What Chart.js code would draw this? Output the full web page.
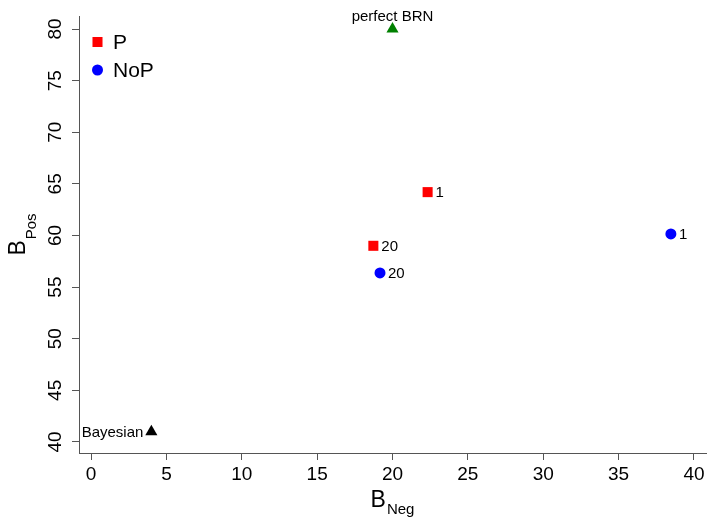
<!DOCTYPE html>
<html>
<head>
<meta charset="utf-8">
<title>B_Pos vs B_Neg</title>
<script src="https://cdn.jsdelivr.net/npm/chart.js@4.4.1/dist/chart.umd.min.js"></script>
<style>
  html, body { margin: 0; padding: 0; background: #fff; }
  #wrap { width: 708px; height: 520px; }
</style>
</head>
<body>
<div id="wrap"><canvas id="brnChart" width="708" height="520"></canvas></div>
<script>
// P runs (red squares)
const pNeg = [22.33, 18.73];
const pPos = [64.2, 59.0];
const pTags = ["1", "20"];

// NoP runs (blue circles)
const nopNeg = [38.47, 19.17];
const nopPos = [60.15, 56.37];
const nopTags = ["1", "20"];

// reference points (triangles)
const refNames = ["perfect BRN", "Bayesian"];
const refNeg = [20, 4];
const refPos = [80, 41];

const xTicks = [0, 5, 10, 15, 20, 25, 30, 35, 40];
const yTicks = [40, 45, 50, 55, 60, 65, 70, 75, 80];

const FONT = "'Liberation Sans', Arial, Helvetica, sans-serif";
const AXIS_GREY = "#555";

const toPoints = (xs, ys) => xs.map((x, i) => ({ x: x, y: ys[i] }));

// writes "B" with a smaller lowered suffix, centred on cx
function subTitle(ctx, main, sub, cx, baseY, drop) {
  ctx.font = "23px " + FONT;
  const wMain = ctx.measureText(main).width;
  ctx.font = "15px " + FONT;
  const wSub = ctx.measureText(sub).width;
  const x0 = cx - (wMain + wSub + 1) / 2;
  ctx.textAlign = "left";
  ctx.textBaseline = "alphabetic";
  ctx.font = "23px " + FONT;
  ctx.fillText(main, x0, baseY);
  ctx.font = "15px " + FONT;
  ctx.fillText(sub, x0 + wMain + 1, baseY + drop);
}

function marker(ctx, style, color, x, y, r) {
  ctx.fillStyle = color;
  ctx.beginPath();
  if (style === "rect") {
    const s = Math.SQRT1_2 * r;
    ctx.rect(x - s, y - s, 2 * s, 2 * s);
  } else {
    ctx.arc(x, y, r, 0, Math.PI * 2);
  }
  ctx.fill();
}

const annotate = {
  id: "annotate",
  afterDatasetsDraw(chart) {
    const { ctx, chartArea: area } = chart;
    ctx.save();

    // point tags
    chart.data.datasets.forEach((ds, i) => {
      const meta = chart.getDatasetMeta(i);
      meta.data.forEach((pt, j) => {
        const text = ds.tags[j];
        ctx.fillStyle = "#000";
        ctx.font = "15px " + FONT;
        if (ds.tagPlace === "above") {
          ctx.textAlign = "center";
          ctx.textBaseline = "alphabetic";
          ctx.fillText(text, pt.x, pt.y - 8);
        } else if (ds.tagPlace === "left") {
          ctx.textAlign = "right";
          ctx.textBaseline = "middle";
          ctx.fillText(text, pt.x - 8, pt.y + 1);
        } else {
          ctx.textAlign = "left";
          ctx.textBaseline = "middle";
          ctx.fillText(text, pt.x + 8, pt.y + 1);
        }
      });
    });

    // legend, top left inside the plot
    let ly = area.top + 26;
    chart.data.datasets.filter(ds => ds.inLegend).forEach(ds => {
      marker(ctx, ds.pointStyle, ds.backgroundColor, area.left + 18.5, ly, ds.pointRadius);
      ctx.fillStyle = "#000";
      ctx.font = "21px " + FONT;
      ctx.textAlign = "left";
      ctx.textBaseline = "middle";
      ctx.fillText(ds.label, area.left + 34, ly + 1);
      ly += 28;
    });

    // axis titles
    ctx.fillStyle = "#000";
    subTitle(ctx, "B", "Neg", (area.left + area.right) / 2, 507, 7);
    ctx.translate(25, (area.top + area.bottom) / 2);
    ctx.rotate(-Math.PI / 2);
    subTitle(ctx, "B", "Pos", 0, 0, 11);

    ctx.restore();
  }
};

const tickFont = { family: FONT, size: 19 };

new Chart(document.getElementById("brnChart"), {
  type: "scatter",
  data: {
    datasets: [
      {
        label: "P",
        data: toPoints(pNeg, pPos),
        tags: pTags,
        inLegend: true,
        pointStyle: "rect",
        pointRadius: 7.1,
        backgroundColor: "#ff0000",
        borderWidth: 0,
      },
      {
        label: "NoP",
        data: toPoints(nopNeg, nopPos),
        tags: nopTags,
        inLegend: true,
        pointStyle: "circle",
        pointRadius: 5.5,
        backgroundColor: "#0000ff",
        borderWidth: 0,
      },
      {
        label: refNames[0],
        data: [{ x: refNeg[0], y: refPos[0] }],
        tags: [refNames[0]],
        tagPlace: "above",
        pointStyle: "triangle",
        pointRadius: 7,
        backgroundColor: "#008000",
        borderWidth: 0,
      },
      {
        label: refNames[1],
        data: [{ x: refNeg[1], y: refPos[1] }],
        tags: [refNames[1]],
        tagPlace: "left",
        pointStyle: "triangle",
        pointRadius: 7,
        backgroundColor: "#000000",
        borderWidth: 0,
      },
    ],
  },
  options: {
    responsive: false,
    animation: false,
    devicePixelRatio: 1,
    layout: { autoPadding: false, padding: { top: 16, right: 2, bottom: 0, left: 0 } },
    plugins: {
      legend: { display: false },
      tooltip: { enabled: false },
    },
    scales: {
      x: {
        type: "linear",
        min: -0.8,
        max: 40.8,
        afterBuildTicks: (s) => { s.ticks = xTicks.map(v => ({ value: v })); },
        afterFit: (s) => { s.height = 67; s.paddingLeft = 0; s.paddingRight = 0; },
        border: { display: true, color: AXIS_GREY, width: 1 },
        grid: { display: true, drawOnChartArea: false, drawTicks: true, tickLength: 7, color: AXIS_GREY, tickColor: AXIS_GREY },
        ticks: { font: tickFont, color: "#000", padding: 3, maxRotation: 0, autoSkip: false, callback: v => String(v) },
      },
      y: {
        type: "linear",
        min: 38.93,
        max: 81.26,
        afterBuildTicks: (s) => { s.ticks = yTicks.map(v => ({ value: v })); },
        afterFit: (s) => { s.width = 79; s.paddingTop = 0; s.paddingBottom = 0; },
        border: { display: true, color: AXIS_GREY, width: 1 },
        grid: { display: true, drawOnChartArea: false, drawTicks: true, tickLength: 7, color: AXIS_GREY, tickColor: AXIS_GREY },
        ticks: { font: tickFont, color: "#000", padding: 6, minRotation: 90, maxRotation: 90, crossAlign: "center", autoSkip: false, callback: v => String(v) },
      },
    },
  },
  plugins: [annotate],
});
</script>
</body>
</html>
